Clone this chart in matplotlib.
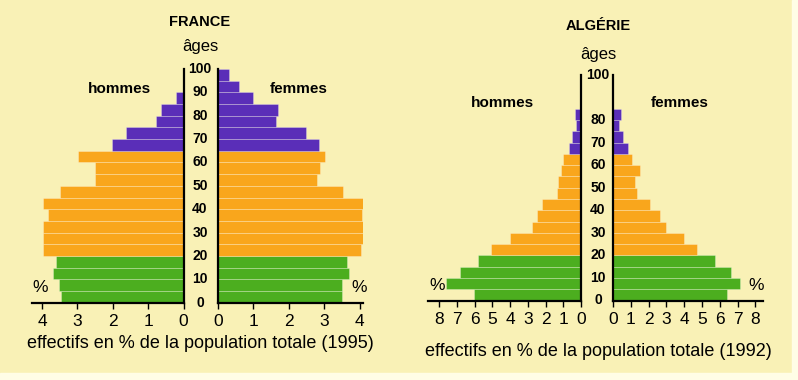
import numpy as np
import matplotlib
matplotlib.use("Agg")
import matplotlib.pyplot as plt
from matplotlib.transforms import blended_transform_factory
from matplotlib.patches import Rectangle

# age groups (lower bound of each 5-year class)
ages_fr = list(range(0, 100, 5))
france_hommes = [3.47, 3.51, 3.68, 3.61, 3.96, 3.96, 3.98, 3.82, 3.96, 3.49,
                 2.50, 2.50, 2.97, 2.03, 1.63, 0.78, 0.64, 0.21, 0.0, 0.0]
france_femmes = [3.49, 3.49, 3.70, 3.65, 4.03, 4.08, 4.10, 4.06, 4.08, 3.54,
                 2.79, 2.88, 3.02, 2.86, 2.49, 1.64, 1.71, 0.99, 0.61, 0.32]

ages_dz = list(range(0, 85, 5))
algerie_hommes = [6.02, 7.60, 6.84, 5.80, 5.07, 4.03, 2.75, 2.48, 2.18, 1.34,
                  1.29, 1.14, 1.00, 0.66, 0.51, 0.30, 0.33]
algerie_femmes = [6.40, 7.11, 6.63, 5.72, 4.74, 3.98, 2.96, 2.63, 2.10, 1.35,
                  1.24, 1.50, 1.05, 0.82, 0.54, 0.35, 0.43]

ticks_fr = [0, 1, 2, 3, 4]
ticks_dz = [0, 1, 2, 3, 4, 5, 6, 7, 8]
age_labels_fr = [0, 10, 20, 30, 40, 50, 60, 70, 80, 90, 100]
age_labels_dz = [0, 10, 20, 30, 40, 50, 60, 70, 80, 100]

BG = "#f9f1b6"
GREEN = "#4cae1f"
ORANGE = "#f9a61c"
PURPLE = "#5a2eb8"
NARROW = ["Liberation Sans Narrow", "Liberation Sans", "DejaVu Sans"]
SANS = ["Liberation Sans", "DejaVu Sans"]

W, H = 798, 380
fig = plt.figure(figsize=(W / 100, H / 100), dpi=100)
fig.patch.set_facecolor(BG)
# white paper strip at the bottom and right edge
fig.add_artist(Rectangle((0, 0), 1, 7 / H, transform=fig.transFigure,
                         color="#fffde6", zorder=0))
fig.add_artist(Rectangle((792 / W, 0), 6 / W, 1, transform=fig.transFigure,
                         color="#fffde6", zorder=0))


def colour(a):
    if a < 20:
        return GREEN
    if a < 65:
        return ORANGE
    return PURPLE


def box(x0, x1, ytop, ybot):
    return [x0 / W, 1 - ybot / H, (x1 - x0) / W, (ybot - ytop) / H]


def half(rect, ages, vals, xmax, ticks, side):
    ax = fig.add_axes(rect)
    ax.set_facecolor("none")
    cols = [colour(a) for a in ages]
    ax.barh(ages, vals, height=5, align="edge", color=cols,
            edgecolor=(1, 1, 1, 0.3), linewidth=0.6)
    ax.set_ylim(0, 100)
    if side == "left":
        ax.set_xlim(xmax, 0)
        keep = ("right", "bottom")
    else:
        ax.set_xlim(0, xmax)
        keep = ("left", "bottom")
    for s in ax.spines:
        ax.spines[s].set_visible(s in keep)
        ax.spines[s].set_linewidth(1.6)
    ax.set_yticks([])
    ax.set_xticks(ticks)
    ax.tick_params(axis="x", direction="out", length=4, width=1, pad=4,
                   labelsize=12.5)
    for t in ax.get_xticklabels():
        t.set_family(NARROW)
    return ax


def pyramid(ax_l, ax_r, cx, age_labels, title, ty, ay, hx, fx, hy,
            px_l, px_r, py, label, ly):
    tr = blended_transform_factory(fig.transFigure, ax_l.transData)
    for a in age_labels:
        ax_l.text(cx / W, a, str(a), transform=tr, ha="center", va="center",
                  fontsize=10, fontweight="bold", family=NARROW, clip_on=False)
    fig.text(cx / W, 1 - ty / H, title, ha="center", va="center",
             fontsize=10.5, fontweight="bold", family=SANS)
    fig.text(cx / W, 1 - ay / H, "âges", ha="center", va="center",
             fontsize=12, family=SANS)
    fig.text(hx / W, 1 - hy / H, "hommes", ha="center", va="center",
             fontsize=11, fontweight="bold", family=SANS)
    fig.text(fx / W, 1 - hy / H, "femmes", ha="center", va="center",
             fontsize=11, fontweight="bold", family=SANS)
    fig.text(px_l / W, 1 - py / H, "%", ha="center", va="center",
             fontsize=12.5, family=SANS)
    fig.text(px_r / W, 1 - py / H, "%", ha="center", va="center",
             fontsize=12.5, family=SANS)
    fig.text(cx / W, 1 - ly / H, label, ha="center", va="center",
             fontsize=13, family=SANS)


# France
fl = half(box(31.7, 183.5, 69, 302.7), ages_fr, france_hommes, 4.29,
          ticks_fr, "left")
fr = half(box(217.7, 363, 69, 302.7), ages_fr, france_femmes, 4.09,
          ticks_fr, "right")
pyramid(fl, fr, 200, age_labels_fr, "FRANCE", 22, 47, 119, 299, 89,
        40, 359, 287, "effectifs en % de la population totale (1995)", 343)

# Algeria
al = half(box(428, 581, 75, 300.5), ages_dz, algerie_hommes, 8.64,
          ticks_dz, "left")
ar = half(box(613, 763, 75, 300.5), ages_dz, algerie_femmes, 8.43,
          ticks_dz, "right")
pyramid(al, ar, 598, age_labels_dz, "ALGÉRIE", 26, 54, 502, 680, 103,
        437, 756, 285, "effectifs en % de la population totale (1992)", 351)

fig.savefig("out.png", dpi=100, facecolor=fig.get_facecolor())
